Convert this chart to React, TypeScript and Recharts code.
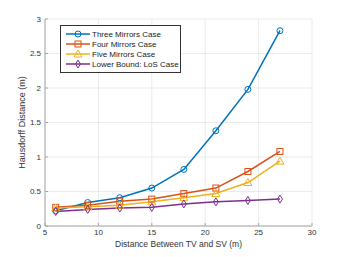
import React from "react"
import { LineChart, Line, XAxis, YAxis, CartesianGrid } from "recharts"

const distances = [6, 9, 12, 15, 18, 21, 24, 27]
const threeMirrors = [0.22, 0.34, 0.41, 0.55, 0.82, 1.38, 1.98, 2.83]
const fourMirrors = [0.27, 0.3, 0.36, 0.39, 0.47, 0.55, 0.79, 1.08]
const fiveMirrors = [0.26, 0.28, 0.3, 0.35, 0.41, 0.47, 0.63, 0.94]
const losBound = [0.21, 0.24, 0.26, 0.27, 0.32, 0.35, 0.37, 0.39]

const xTicks = [5, 10, 15, 20, 25, 30]
const yTicks = [0, 0.5, 1, 1.5, 2, 2.5, 3]

const series = [
  { key: "three", name: "Three Mirrors Case", color: "#0072BD", marker: "circle" },
  { key: "four", name: "Four Mirrors Case", color: "#D95319", marker: "square" },
  { key: "five", name: "Five Mirrors Case", color: "#EDB120", marker: "triangle" },
  { key: "los", name: "Lower Bound: LoS Case", color: "#7E2F8E", marker: "diamond" },
]

const data = distances.map((d, i) => ({
  d,
  three: threeMirrors[i],
  four: fourMirrors[i],
  five: fiveMirrors[i],
  los: losBound[i],
}))

const font = "'Liberation Sans', Arial, sans-serif"
const frame = "#a6a6a6"

function Marker({ cx, cy, kind, color }: { cx: number; cy: number; kind: string; color: string }) {
  const s = 3
  if (kind === "circle") return <circle cx={cx} cy={cy} r={s} fill="none" stroke={color} strokeWidth={1} />
  if (kind === "square")
    return <rect x={cx - s} y={cy - s} width={2 * s} height={2 * s} fill="none" stroke={color} strokeWidth={1} />
  if (kind === "triangle")
    return (
      <polygon
        points={`${cx},${cy - s - 1} ${cx - s - 1},${cy + s} ${cx + s + 1},${cy + s}`}
        fill="none"
        stroke={color}
        strokeWidth={1}
      />
    )
  return (
    <polygon
      points={`${cx},${cy - s - 1} ${cx - s + 0.5},${cy} ${cx},${cy + s + 1} ${cx + s - 0.5},${cy}`}
      fill="none"
      stroke={color}
      strokeWidth={1}
    />
  )
}

const LegendBox = () => (
  <div
    style={{
      position: "absolute",
      left: 60,
      top: 25,
      width: 114,
      border: "1px solid #333",
      background: "#fff",
      padding: "3px 0 3px 5px",
      fontFamily: font,
      fontSize: 8,
      color: "#222",
    }}
  >
    {series.map((s) => (
      <div key={s.key} style={{ display: "flex", alignItems: "center", height: 10 }}>
        <svg width={24} height={10} style={{ marginRight: 2 }}>
          <line x1={0} y1={5} x2={24} y2={5} stroke={s.color} strokeWidth={1.5} />
          <Marker cx={12} cy={5} kind={s.marker} color={s.color} />
        </svg>
        <span style={{ whiteSpace: "nowrap" }}>{s.name}</span>
      </div>
    ))}
  </div>
)

export default function App() {
  return (
    <div style={{ margin: -8, width: 345, height: 257, background: "#fff", position: "relative", overflow: "hidden" }}>
      <LineChart width={345} height={257} data={data} margin={{ top: 19, right: 33, bottom: 19, left: 15 }}>
        <CartesianGrid stroke="#e6e6e6" strokeWidth={0.8} />
        <XAxis
          dataKey="d"
          type="number"
          domain={[5, 30]}
          ticks={xTicks}
          height={12}
          axisLine={{ stroke: frame }}
          tickLine={{ stroke: frame }}
          tickSize={-3}
          tickMargin={6}
          tick={{ fontSize: 8, fill: "#333", fontFamily: font }}
        />
        <XAxis
          xAxisId="top"
          dataKey="d"
          type="number"
          domain={[5, 30]}
          ticks={xTicks}
          orientation="top"
          height={0}
          tick={false}
          axisLine={{ stroke: frame }}
          tickLine={false}
        />
        <YAxis
          type="number"
          domain={[0, 3]}
          ticks={yTicks}
          width={30}
          axisLine={{ stroke: frame }}
          tickLine={{ stroke: frame }}
          tickSize={-3}
          tickMargin={7}
          tick={{ fontSize: 8, fill: "#333", fontFamily: font }}
          label={{
            value: "Hausdorff Distance (m)",
            angle: -90,
            position: "center",
            dx: -8,
            style: { fontSize: 9, fill: "#333", fontFamily: font },
          }}
        />
        <YAxis
          yAxisId="right"
          type="number"
          domain={[0, 3]}
          ticks={yTicks}
          orientation="right"
          width={0}
          tick={false}
          axisLine={{ stroke: frame }}
          tickLine={false}
        />
        {series.map((s) => (
          <Line
            key={s.key}
            dataKey={s.key}
            name={s.name}
            stroke={s.color}
            strokeWidth={1.5}
            isAnimationActive={false}
            dot={(p: any) => <Marker key={`${s.key}-${p.index}`} cx={p.cx} cy={p.cy} kind={s.marker} color={s.color} />}
            activeDot={false}
          />
        ))}
      </LineChart>
      <div
        style={{
          position: "absolute",
          left: 45,
          width: 267,
          top: 239,
          textAlign: "center",
          fontFamily: font,
          fontSize: 8.5,
          lineHeight: "10px",
          color: "#333",
        }}
      >
        Distance Between TV and SV (m)
      </div>
      <LegendBox />
    </div>
  )
}
